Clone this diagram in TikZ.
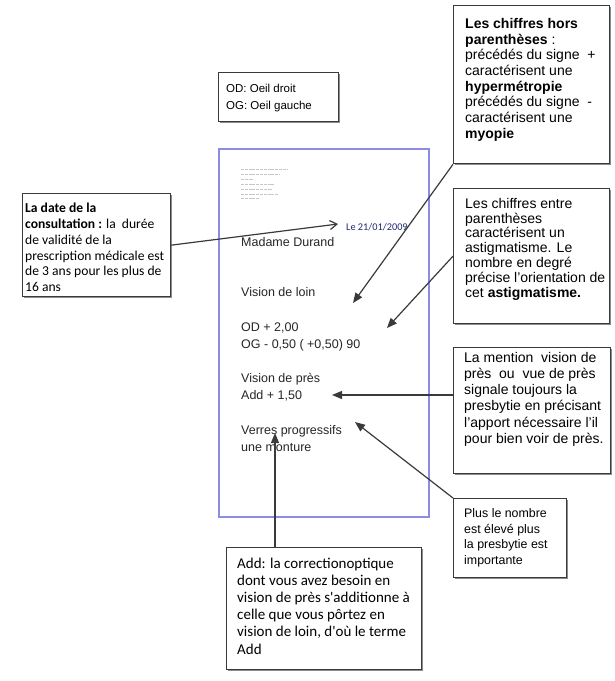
\documentclass[tikz,border=0pt]{standalone}
\usepackage{fontspec}
\setmainfont{Liberation Sans}
\newfontfamily\carlito{Carlito}
\usetikzlibrary{arrows.meta,shadows}
\definecolor{boxline}{HTML}{3A3A3A}
\definecolor{sheet}{HTML}{8C8CE6}
\definecolor{txt}{HTML}{262626}
\definecolor{navy}{HTML}{1F2A70}
\begin{document}
\begin{tikzpicture}[x=1pt,y=-1pt,
  box/.style={draw=boxline, line width=1.3pt, fill=white, rectangle, inner sep=0pt, anchor=north west,
    drop shadow={shadow xshift=1.3pt, shadow yshift=-1.3pt, fill=black!45, opacity=1}},
  btext/.style={anchor=north west, align=left, inner sep=0pt, text=black},
  ptext/.style={anchor=base west, inner sep=0pt, text=txt, font=\fontsize{12.5}{15}\selectfont},
  arr/.style={draw=boxline, line width=1.2pt, -{Triangle[length=10pt,width=8pt]}},
  openarr/.style={draw=boxline, line width=1.2pt, -{Straight Barb[length=7pt,width=9pt,line width=1.2pt]}},
  scribble/.style={draw=black!22, line width=0.9pt, dash pattern=on 3pt off 0.8pt}
]
\useasboundingbox[fill=white] (0,0) rectangle (615,681);

% prescription sheet
\draw[sheet, line width=1.3pt] (219,149) rectangle (429,517);
\draw[scribble] (241,169) -- (287,169);
\draw[scribble] (241,174) -- (280,174);
\draw[scribble] (241,179) -- (253,179);
\draw[scribble] (241,184) -- (275,184);
\draw[scribble] (241,189) -- (272,189);
\draw[scribble] (241,194) -- (278,194);
\draw[scribble] (241,198) -- (260,198);

\node[anchor=base west, inner sep=0pt, text=navy, font=\carlito\fontsize{10.3}{12}\selectfont] (date) at (346,230) {Le 21/01/2009};
\node[ptext] (madame) at (241,246.5) {Madame Durand};
\node[ptext] (loin) at (241,296.5) {Vision de loin};
\node[ptext] (od) at (241,331.5) {OD + 2,00};
\node[ptext] (og) at (241,348) {OG - 0,50 ( +0,50) 90};
\node[ptext] (pres) at (241,382.5) {Vision de près};
\node[ptext] (add) at (241,399.5) {Add + 1,50};
\node[ptext] (verres) at (241,434.5) {Verres progressifs};
\node[ptext] (monture) at (241,451.5) {une monture};

% legend box
\node[box, minimum width=120pt, minimum height=49pt] (legend) at (218,72) {};
\node[btext, font=\fontsize{11.5}{17}\selectfont] (legendtxt) at (226,84) {OD: Oeil droit\\OG: Oeil gauche};

% callout boxes
\node[box, minimum width=148pt, minimum height=103pt] (b1) at (22,193) {};
\node[btext, font=\carlito\fontsize{13.6}{15.8}\selectfont] (b1t) at (25,203) {\textbf{La date de la}\\\textbf{consultation :} la\ \ durée\\de validité de la\\prescription médicale est\\de 3 ans pour les plus de\\16 ans};

\node[box, minimum width=156pt, minimum height=158pt] (b2) at (453,5) {};
\node[btext, font=\fontsize{14}{15.7}\selectfont] (b2t) at (465,18) {\textbf{Les chiffres hors}\\\textbf{parenthèses} :\\précédés du signe\ \ +\\caractérisent une\\\textbf{hypermétropie}\\précédés du signe\ \ -\\caractérisent une\\\textbf{myopie}};

\node[box, minimum width=156pt, minimum height=135pt] (b3) at (453,188) {};
\node[btext, font=\fontsize{14}{14.8}\selectfont] (b3t) at (465,198) {Les chiffres entre\\parenthèses\\caractérisent un\\astigmatisme. Le\\nombre en degré\\précise l'orientation de\\cet \textbf{astigmatisme.}};

\node[box, minimum width=157pt, minimum height=126pt] (b4) at (453,347) {};
\node[btext, font=\fontsize{14}{16.2}\selectfont] (b4t) at (464,352) {La mention\ \ vision de\\près\ \ ou\ \ vue de près\\signale toujours la\\presbytie en précisant\\l'apport nécessaire l'il\\pour bien voir de près.};

\node[box, minimum width=113pt, minimum height=79pt] (b5) at (453,498) {};
\node[btext, font=\fontsize{12.4}{15.6}\selectfont] (b5t) at (464,508.5) {Plus le nombre\\est élevé plus\\la presbytie est\\importante};

\node[box, minimum width=195pt, minimum height=122pt] (b6) at (226,547) {};
\node[btext, font=\carlito\fontsize{15}{17.2}\selectfont] (b6t) at (237,557.5) {Add: la correctionoptique\\dont vous avez besoin en\\vision de près s'additionne à\\celle que vous pôrtez en\\vision de loin, d'où le terme\\Add};

% arrow tips
\coordinate (tdate) at (338,224);
\coordinate (tloin) at (353,303);
\coordinate (tog) at (387,328);
\coordinate (tadd) at (332,395);
\coordinate (tpres) at (355,422);
\coordinate (tverres) at (275,433);

\draw[openarr] (b1.east) -- (tdate);
\draw[arr] (b2.south west) -- (tloin);
\draw[arr] (b3.west) -- (tog);
\draw[arr] (b4.west |- tadd) -- (tadd);
\draw[arr] (b5.north west) -- (tpres);
\draw[arr] (b6.north -| tverres) -- (tverres);
\end{tikzpicture}
\end{document}
